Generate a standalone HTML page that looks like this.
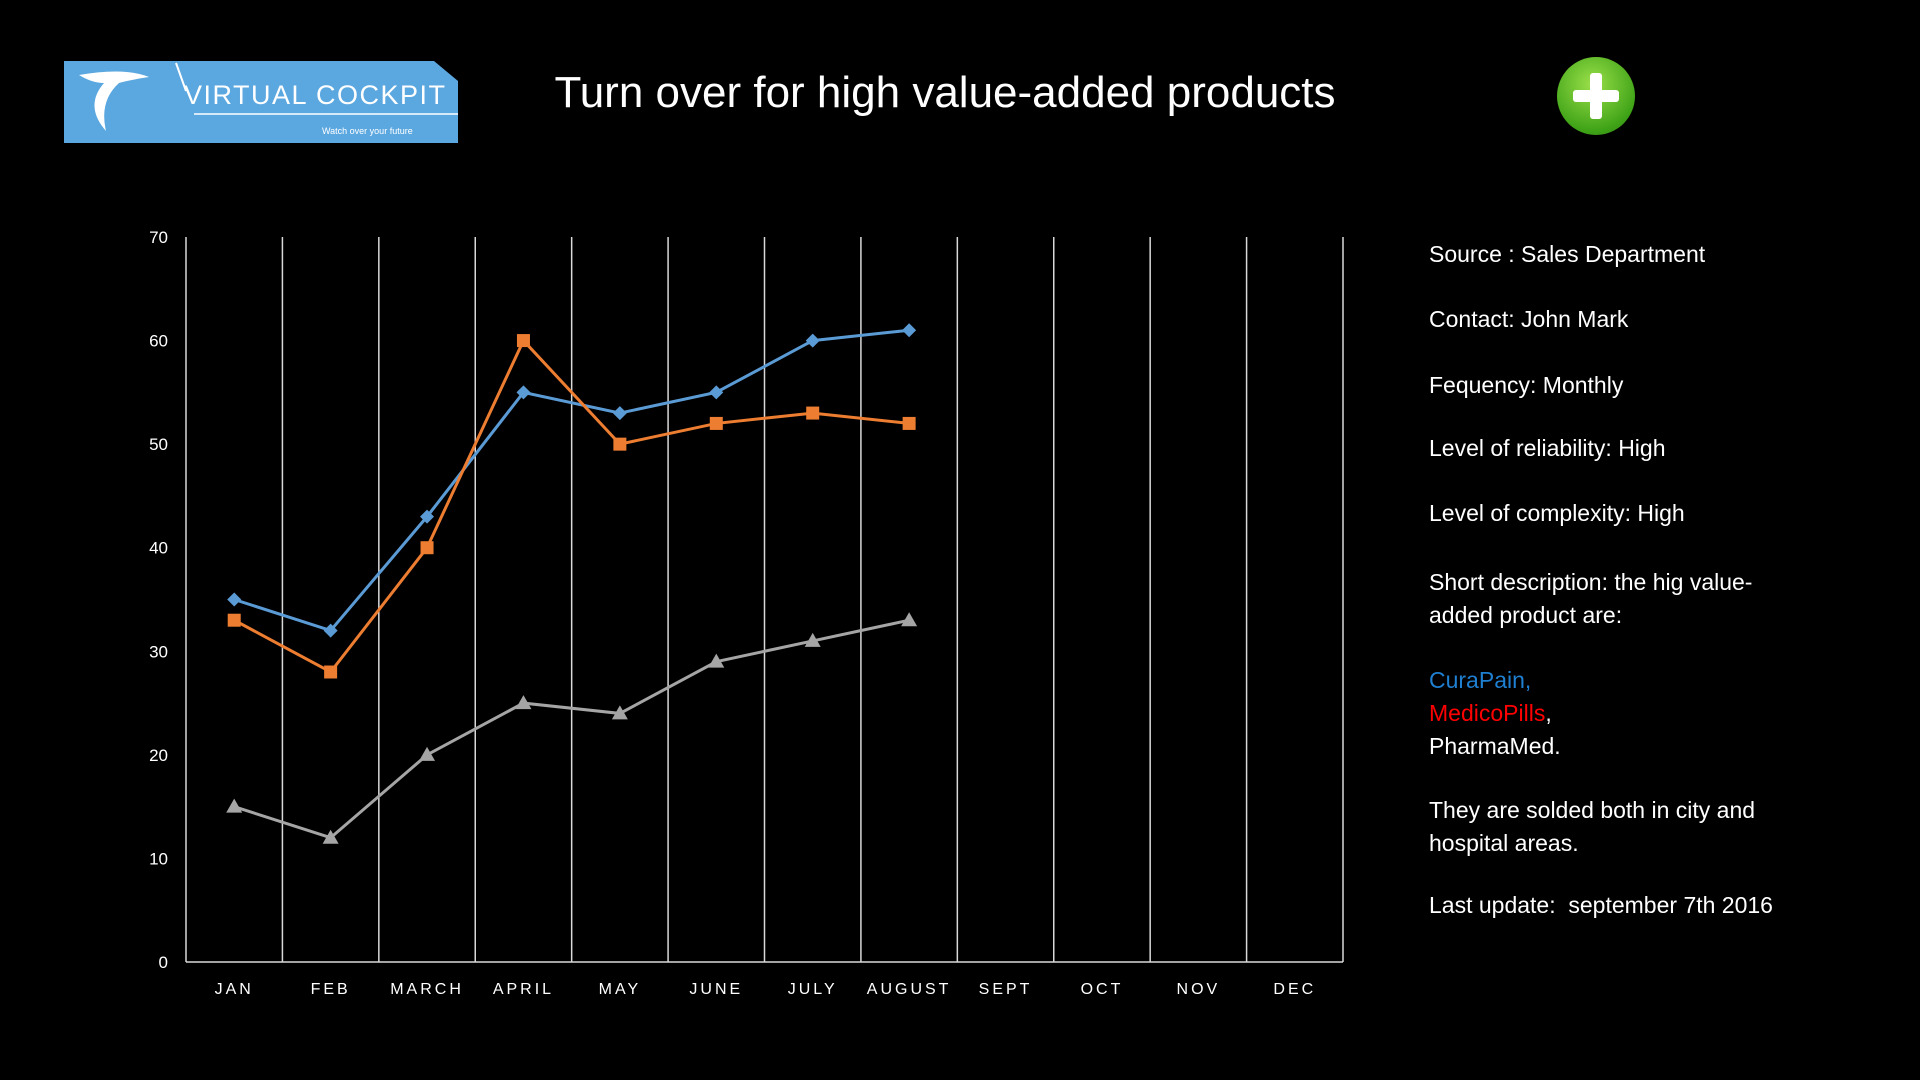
<!DOCTYPE html>
<html><head><meta charset="utf-8"><style>
body{margin:0;width:1920px;height:1080px;background:#000;overflow:hidden;font-family:"Liberation Sans",sans-serif;position:relative}
.t{position:absolute;color:#fff}
.info{position:absolute;left:1429px;color:#fff;font-size:23px;white-space:nowrap}
</style></head><body>
<div style="position:absolute;left:64px;top:61px;width:394px;height:82px">
<svg width="394" height="82"><polygon points="0,0 370,0 394,20 394,82 0,82" fill="#5ba7e0"/>
<path d="M15,14 Q60,6 85,16 Q70,18 55,22 Q35,40 42,70 Q20,45 40,22 Q28,22 15,14Z" fill="#fff"/>
<line x1="112" y1="2" x2="122" y2="30" stroke="#fff" stroke-width="2"/>
<text x="120" y="43" fill="#fff" font-size="27" letter-spacing="1.5" font-family="Liberation Sans">VIRTUAL  COCKPIT</text>
<line x1="130" y1="53" x2="394" y2="53" stroke="#fff" stroke-width="1.5"/>
<text x="258" y="73" fill="#fff" font-size="9" font-family="Liberation Sans">Watch over your future</text></svg></div>
<div class="t" style="left:445px;top:68px;width:1000px;text-align:center;font-size:44px">Turn over for high value-added products</div>
<div style="position:absolute;left:1557px;top:57px;width:78px;height:78px;border-radius:50%;background:radial-gradient(circle at 45% 35%,#9be04a,#3fa317 70%,#2a7a10);">
<div style="position:absolute;left:33px;top:16px;width:12px;height:46px;background:#fff;border-radius:3px"></div>
<div style="position:absolute;left:16px;top:33px;width:46px;height:12px;background:#fff;border-radius:3px"></div></div>
<svg id="chart" width="1920" height="1080" style="position:absolute;left:0;top:0"></svg>
<div class="info" style="top:241px">Source : Sales Department</div>
<div class="info" style="top:306px">Contact: John Mark</div>
<div class="info" style="top:372px">Fequency: Monthly</div>
<div class="info" style="top:435px">Level of reliability: High</div>
<div class="info" style="top:500px">Level of complexity: High</div>
<div class="info" style="top:566px;line-height:33px">Short description: the hig value-<br>added product are:</div>
<div class="info" style="top:664px;line-height:33px"><span style="color:#1f7fd0">CuraPain,</span><br><span style="color:#f00">MedicoPills</span>,<br>PharmaMed.</div>
<div class="info" style="top:794px;line-height:33px">They are solded both in city and<br>hospital areas.</div>
<div class="info" style="top:892px">Last update:&nbsp; september 7th 2016</div>
<script>
const months=["JAN","FEB","MARCH","APRIL","MAY","JUNE","JULY","AUGUST","SEPT","OCT","NOV","DEC"];
const yTicks=[0,10,20,30,40,50,60,70];
const curaPain=[35,32,43,55,53,55,60,61];
const medicoPills=[33,28,40,60,50,52,53,52];
const pharmaMed=[15,12,20,25,24,29,31,33];
const svg=document.getElementById('chart');const NS='http://www.w3.org/2000/svg';
const X0=186,X1=1343,Y0=962,Y1=237,cw=(X1-X0)/months.length;
const xc=i=>X0+cw*(i+0.5);const yv=v=>Y0-(v/70)*(Y0-Y1);
function el(t,a){const e=document.createElementNS(NS,t);for(const k in a)e.setAttribute(k,a[k]);svg.appendChild(e);return e;}
for(let i=0;i<=months.length;i++){const l=el('line',{x1:X0+i*cw,x2:X0+i*cw,y1:Y1,y2:Y0,stroke:'#d9d9d9','stroke-width':1.5});

}
const ax=el('line',{x1:X0,x2:X1,y1:Y0,y2:Y0,stroke:'#d9d9d9','stroke-width':1.5});


yTicks.forEach(v=>{const t=el('text',{x:168,y:yv(v)+6,'text-anchor':'end',fill:'#fff','font-size':17,'font-family':'Liberation Sans'});t.textContent=v;

});
months.forEach((m,i)=>{const t=el('text',{x:xc(i),y:994,'text-anchor':'middle',fill:'#fff','font-size':16,'letter-spacing':3,'font-family':'Liberation Sans'});t.textContent=m;

});
function series(d,col,shape,name){
const p=el('polyline',{points:d.map((v,i)=>xc(i)+','+yv(v)).join(' '),fill:'none',stroke:col,'stroke-width':3});


d.forEach((v,i)=>{const x=xc(i),y=yv(v);let m;
if(shape=='d')m=el('polygon',{points:`${x},${y-7} ${x+7},${y} ${x},${y+7} ${x-7},${y}`,fill:col});
else if(shape=='s')m=el('rect',{x:x-6.5,y:y-6.5,width:13,height:13,fill:col});
else m=el('polygon',{points:`${x},${y-8} ${x+8},${y+6} ${x-8},${y+6}`,fill:col});

});}
series(pharmaMed,'#a5a5a5','t','pharmamed');
series(curaPain,'#5b9bd5','d','curapain');
series(medicoPills,'#ed7d31','s','medicopills');
</script>
</body></html>
